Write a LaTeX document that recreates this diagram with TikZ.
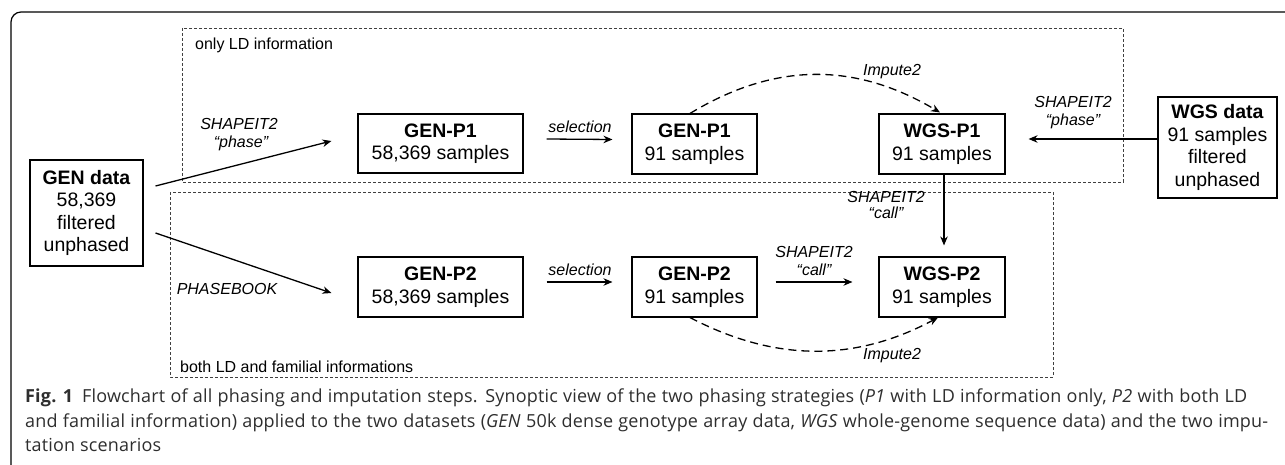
\documentclass[tikz,border=0pt]{standalone}
\usepackage{fontspec}
\setmainfont{Liberation Sans}
\newfontfamily\capfont{Open Sans}[LetterSpace=1]
\usetikzlibrary{arrows.meta}
\begin{document}
\begin{tikzpicture}[x=1pt,y=-1pt,
  box/.style={draw, line width=1.1pt, align=center, inner sep=0pt,
    font=\fontsize{19.5}{22.5}\selectfont},
  lab/.style={font=\fontsize{16}{19}\selectfont\itshape, align=center, inner sep=0pt},
  zonelab/.style={font=\fontsize{16}{19}\selectfont, inner sep=0pt},
  arr/.style={-{Stealth[length=9pt,width=7.5pt]}, line width=1.3pt},
  imp/.style={arr, dash pattern=on 8pt off 5pt},
  zone/.style={draw=black!75, dash pattern=on 3pt off 2pt, line width=0.9pt},
  captxt/.style={anchor=base west, inner sep=0pt, text=black!82,
    font=\capfont\fontsize{18}{24}\selectfont}]
\useasboundingbox (0,0) rectangle (1285,465);
% outer frame
\draw[line width=1.2pt, rounded corners=10pt] (11,470) -- (11,12) -- (1295,12);
% zones
\draw[zone] (182,28) rectangle (1123,182);
\draw[zone] (170,192) rectangle (1053,377);
\node[zonelab, anchor=west] (z1) at (195,45) {only LD information};
\node[zonelab, anchor=west] (z2) at (180,367) {both LD and familial informations};
% boxes
\node[box, minimum width=113pt, minimum height=106pt] (gen) at (86.5,213)
  {\textbf{GEN data}\\58,369\\filtered\\unphased};
\node[box, minimum width=165pt, minimum height=59pt] (gp1) at (440.5,143.5)
  {\textbf{GEN-P1}\\58,369 samples};
\node[box, minimum width=125pt, minimum height=60pt] (gs1) at (694.5,144)
  {\textbf{GEN-P1}\\91 samples};
\node[box, minimum width=126pt, minimum height=60pt] (wp1) at (942,144)
  {\textbf{WGS-P1}\\91 samples};
\node[box, minimum width=119pt, minimum height=101pt] (wgs) at (1217.5,147.5)
  {\textbf{WGS data}\\91 samples\\filtered\\unphased};
\node[box, minimum width=165pt, minimum height=60pt] (gp2) at (440.5,287)
  {\textbf{GEN-P2}\\58,369 samples};
\node[box, minimum width=125pt, minimum height=60pt] (gs2) at (694.5,287)
  {\textbf{GEN-P2}\\91 samples};
\node[box, minimum width=126pt, minimum height=60pt] (wp2) at (942,287)
  {\textbf{WGS-P2}\\91 samples};
% connectors
\draw[arr] ([xshift=12pt,yshift=27pt]gen.east) -- ([xshift=-26pt,yshift=2.5pt]gp1.west);
\draw[arr] ([xshift=12pt,yshift=-20pt]gen.east) -- ([xshift=-26pt,yshift=-6pt]gp2.west);
\draw[arr] ([xshift=23pt,yshift=4.5pt]gp1.east) -- ([xshift=-19pt,yshift=4.5pt]gs1.west);
\draw[arr] ([xshift=23pt,yshift=5pt]gp2.east) -- ([xshift=-19pt,yshift=5pt]gs2.west);
\draw[arr] ([xshift=18pt,yshift=5pt]gs2.east) -- ([xshift=-26pt,yshift=5pt]wp2.west);
\draw[arr] ([yshift=8.5pt]wgs.west) -- ([xshift=23pt,yshift=5pt]wp1.east);
\draw[arr] ([xshift=2pt]wp1.south) -- ([xshift=2pt,yshift=11pt]wp2.north);
\draw[imp] ([xshift=-4.5pt]gs1.north) .. controls (775,62) and (855,62) .. ([xshift=-2pt,yshift=1pt]wp1.north);
\draw[imp] ([xshift=-4.5pt]gs2.south) .. controls (775,362) and (855,362) .. ([xshift=-4pt]wp2.south);
% labels
\node[lab] (l1) at (239,135) {SHAPEIT2\\[-1pt]\hspace*{4pt}“phase”};
\node[lab] (l2) at (227,289) {PHASEBOOK};
\node[lab] (l3) at (580,127) {selection};
\node[lab] (l4) at (580,270) {selection};
\node[lab] (l5) at (814,261) {SHAPEIT2\\[-1pt]“call”};
\node[lab] (l6) at (1073,113) {SHAPEIT2\\[-1pt]“phase”};
\node[lab] (l7) at (886,205) {SHAPEIT2\\[-3pt]“call”};
\node[lab] (l8) at (892,72) {Impute2};
\node[lab] (l9) at (892,356) {Impute2};
% caption
\node[captxt] (c1) at (25,402) {\hbox to 1222pt{\textbf{\mbox{Fig. 1}}\enspace Flowchart of all phasing and imputation steps. Synoptic view of the two phasing strategies (\textit{P1} with LD information only, \textit{P2} with both LD}};
\node[captxt] (c2) at (25,427) {\hbox to 1243pt{and familial information) applied to the two datasets (\textit{GEN} 50k dense genotype array data, \textit{WGS} whole-genome sequence data) and the two impu-}};
\node[captxt] (c3) at (25,451) {tation scenarios};
\end{tikzpicture}
\end{document}
